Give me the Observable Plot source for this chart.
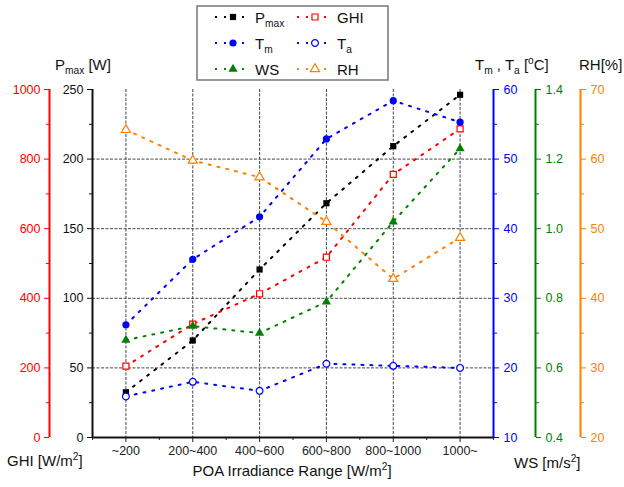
<!DOCTYPE html>
<html><head><meta charset="utf-8">
<script src="https://cdn.jsdelivr.net/npm/d3@7"></script>
<script src="https://cdn.jsdelivr.net/npm/@observablehq/plot@0.6"></script>
<style>body{margin:0;background:#fff} svg{display:block}</style>
</head><body><div id="chart"></div>
<script>
// ---- data ----
const categories = ["~200", "200~400", "400~600", "600~800", "800~1000", "1000~"];
const pmax = [32.5, 69.7, 120.7, 168.3, 209.3, 246.2];   // W
const ghi  = [205, 326, 413, 518, 756, 887];             // W/m2
const tm   = [26.2, 35.6, 41.7, 52.9, 58.4, 55.3];       // °C
const ta   = [15.9, 18.0, 16.7, 20.6, 20.3, 20.0];       // °C
const ws   = [0.68, 0.72, 0.70, 0.79, 1.02, 1.23];       // m/s2
const rh   = [64.2, 59.8, 57.4, 51.0, 42.8, 48.7];       // %

const majorTicks = [0, 50, 100, 150, 200, 250];
const minorTicks = [25, 75, 125, 175, 225];

// Each secondary unit is mapped onto the primary (Pmax) y scale
const pToP   = d3.scaleLinear([0, 250], [0, 250]);
const ghiToP = d3.scaleLinear([0, 1000], [0, 250]);
const tToP   = d3.scaleLinear([10, 60], [0, 250]);
const wsToP  = d3.scaleLinear([0.4, 1.4], [0, 250]);
const rhToP  = d3.scaleLinear([20, 70], [0, 250]);

const RED = "#ff0000", BLUE = "#0000ff", GREEN = "#008000", ORANGE = "#ff8000";
const FONT = "'Liberation Sans', Arial, Helvetica, sans-serif";

const series = [
  {key: "Pmax", values: pmax, conv: pToP,   color: "#000", symbol: "square",   filled: true,  r: 3.5},
  {key: "GHI",  values: ghi,  conv: ghiToP, color: RED,    symbol: "square",   filled: false, r: 3.4},
  {key: "Tm",   values: tm,   conv: tToP,   color: BLUE,   symbol: "circle",   filled: true,  r: 3.6},
  {key: "Ta",   values: ta,   conv: tToP,   color: BLUE,   symbol: "circle",   filled: false, r: 3.4},
  {key: "WS",   values: ws,   conv: wsToP,  color: GREEN,  symbol: "triangle", filled: true,  r: 3.4},
  {key: "RH",   values: rh,   conv: rhToP,  color: ORANGE, symbol: "triangle", filled: false, r: 3.4}
];
const tables = series.map(s => s.values.map((v, i) => ({i, cat: categories[i], v, y: s.conv(v)})));

const DOTS = "2,7";
const lineMarks = series.map((s, k) => Plot.line(tables[k], {
  x: "i", y: "y", stroke: s.color, strokeWidth: 2, strokeDasharray: DOTS
}));
const dotMarks = series.map((s, k) => Plot.dot(tables[k], {
  x: "i", y: "y", symbol: () => s.symbol, r: s.r,
  fill: s.filled ? s.color : "white",
  stroke: s.filled ? "none" : s.color, strokeWidth: 1.2
}));

const gridStyle = {stroke: "#333", strokeOpacity: 0.9, strokeWidth: 1, strokeDasharray: "3,1.5"};
const axisFont = {fontSize: 12.5};

function yAxisPair(anchor, dx, color, fmt) {
  return [
    Plot.axisY({anchor, dx, ticks: majorTicks, tickSize: 5, tickPadding: anchor === "left" ? 4 : 5,
      tickFormat: fmt, color, label: null, ...axisFont}),
    Plot.axisY({anchor, dx, ticks: minorTicks, tickSize: 3, tickFormat: () => "", color, label: null})
  ];
}

const plot = Plot.plot({
  width: 624, height: 487,
  marginLeft: 92, marginRight: 131, marginTop: 89, marginBottom: 50,
  style: {fontFamily: FONT, background: "white", color: "#111"},
  x: {type: "linear", domain: [-0.5, 5.5]},
  y: {domain: [0, 250]},
  marks: [
    Plot.gridX({ticks: [0, 1, 2, 3, 4, 5], ...gridStyle}),
    Plot.gridY({ticks: [50, 100, 150, 200], ...gridStyle}),
    ...lineMarks,
    ...dotMarks,
    // x axis
    Plot.axisX({ticks: [0, 1, 2, 3, 4, 5], tickFormat: i => categories[i], tickSize: 5, tickPadding: 4,
      label: null, color: "#222", ...axisFont}),
    Plot.axisX({ticks: [-0.5, 0.5, 1.5, 2.5, 3.5, 4.5, 5.5], tickSize: 3, tickFormat: () => "", label: null, color: "#222"}),
    Plot.ruleY([0], {stroke: "#111", strokeWidth: 2}),
    // left axes
    ...yAxisPair("left", 0, "#111", d => String(Math.round(pToP.invert(d)))),
    Plot.ruleX([-0.5], {stroke: "#111", strokeWidth: 2}),
    ...yAxisPair("left", -43, RED, d => String(Math.round(ghiToP.invert(d)))),
    Plot.ruleX([-0.5], {dx: -43, stroke: RED, strokeWidth: 2}),
    // right axes
    ...yAxisPair("right", 0, BLUE, d => String(Math.round(tToP.invert(d)))),
    Plot.ruleX([5.5], {stroke: BLUE, strokeWidth: 2}),
    ...yAxisPair("right", 42, GREEN, d => wsToP.invert(d).toFixed(1)),
    Plot.ruleX([5.5], {dx: 42, stroke: GREEN, strokeWidth: 2}),
    ...yAxisPair("right", 87, ORANGE, d => String(Math.round(rhToP.invert(d)))),
    Plot.ruleX([5.5], {dx: 87, stroke: ORANGE, strokeWidth: 2})
  ]
});

document.getElementById("chart").appendChild(plot);

// ---- titles with sub/superscripts ----
const svg = d3.select(plot);
function richText(x, y, parts, {size = 15, anchor = "start", fill = "#111"} = {}) {
  const t = svg.append("text").attr("x", x).attr("y", y).attr("font-size", size)
    .attr("text-anchor", anchor).attr("fill", fill).attr("font-family", FONT);
  let shift = 0;
  parts.forEach(p => {
    const part = typeof p === "string" ? {t: p} : p;
    const target = part.sub ? 4 : part.sup ? -6 : 0;
    const ts = t.append("tspan").text(part.t).attr("dy", target - shift);
    if (part.sub || part.sup) ts.attr("font-size", size * 0.68);
    shift = target;
  });
  return t;
}
richText(55, 70, ["P", {t: "max", sub: true}, " [W]"]);
richText(475, 70, ["T", {t: "m", sub: true}, " , T", {t: "a", sub: true}, " [", {t: "o", sup: true}, "C]"]);
richText(579, 70, ["RH[%]"]);
richText(7, 466, ["GHI [W/m", {t: "2", sup: true}, "]"]);
richText(514, 468, ["WS [m/s", {t: "2", sup: true}, "]"]);
richText(292, 476, ["POA Irradiance Range [W/m", {t: "2", sup: true}, "]"], {anchor: "middle"});

// ---- legend ----
const legendNames = {
  Pmax: ["P", {t: "max", sub: true}], GHI: ["GHI"],
  Tm: ["T", {t: "m", sub: true}], Ta: ["T", {t: "a", sub: true}],
  WS: ["WS"], RH: ["RH"]
};
const lg = svg.append("g");
lg.append("rect").attr("x", 197).attr("y", 6).attr("width", 191).attr("height", 74)
  .attr("fill", "white").attr("stroke", "#777").attr("stroke-width", 1.5);
const symType = {square: d3.symbolSquare, circle: d3.symbolCircle, triangle: d3.symbolTriangle};
series.forEach((s, k) => {
  const col = k % 2, row = Math.floor(k / 2);
  const cx = col === 0 ? 233 : 315;
  const cy = 17 + row * 26;
  lg.append("line").attr("x1", cx - 18).attr("x2", cx + 18).attr("y1", cy).attr("y2", cy)
    .attr("stroke", s.color).attr("stroke-width", 2).attr("stroke-dasharray", "2,7");
  lg.append("path").attr("transform", `translate(${cx},${cy})`)
    .attr("d", d3.symbol().type(symType[s.symbol]).size(s.r * s.r * Math.PI)())
    .attr("fill", s.filled ? s.color : "white").attr("stroke", s.filled ? "none" : s.color).attr("stroke-width", 1.2);
  richText(cx + 22, cy + 5.5, legendNames[s.key], {size: 15});
});
</script></body></html>
